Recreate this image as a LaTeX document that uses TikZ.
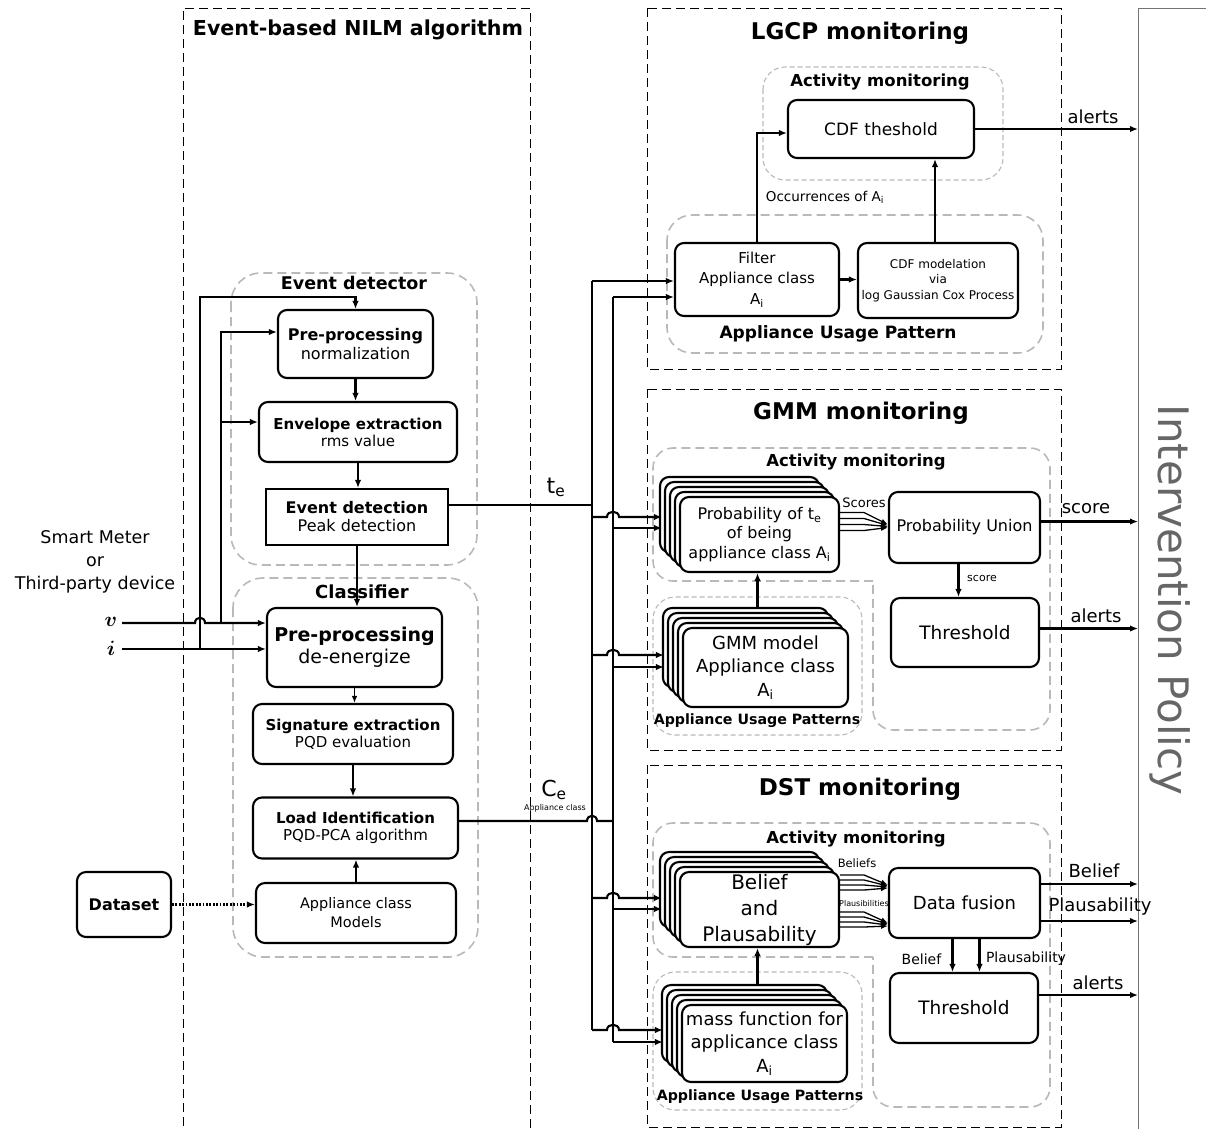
\documentclass[tikz,border=0pt]{standalone}
\usepackage{fontspec}
\setmainfont{DejaVu Sans}
\usepackage{bm}
\usetikzlibrary{arrows.meta,shadows}

\newcommand{\fsz}[2]{\fontsize{#1}{#2}\selectfont}

\tikzset{
  blk/.style={draw, line width=2.1pt, rounded corners=9pt, fill=white, align=center, inner sep=0pt},
  cpy/.style={general shadow={shadow xshift=-#1pt, shadow yshift=#1pt, draw, fill=white, line width=2.1pt}},
  stk/.style={blk, cpy=20, cpy=15, cpy=10, cpy=5},
  frm/.style={line width=1pt, dash pattern=on 9pt off 5pt},
  grp/.style={draw=gray!55, line width=1.6pt, dash pattern=on 9pt off 5pt, rounded corners=25pt},
  subgrp/.style={draw=gray!55, line width=1.1pt, dash pattern=on 5pt off 3pt, rounded corners=22pt},
  con/.style={line width=2.1pt, -{Latex[length=8pt,width=6.5pt]}},
  thin con/.style={line width=1.3pt, -{Latex[length=7pt,width=5.5pt]}},
  lin/.style={line width=2.1pt},
  lbl/.style={font=\fsz{18}{22}},
  ttl/.style={font=\fsz{23}{27}\bfseries},
  gttl/.style={font=\fsz{16.5}{20}\bfseries},
}

\begin{document}
\begin{tikzpicture}[x=1pt,y=-1pt]
  \useasboundingbox (0,0) rectangle (1206,1128);

  % NILM column
  \draw[frm] (183,1140) -- (183,8) -- (530,8) -- (530,1140);
  \node[font=\fsz{20.6}{24}\bfseries] (nilm) at (358,30) {Event-based NILM algorithm};

  \draw[grp, rounded corners=30pt] (231,273) rectangle (477,565);
  \node[font=\fsz{17.5}{21}\bfseries] (dettitle) at (354,283) {Event detector};
  \draw[grp, rounded corners=30pt] (233,578) rectangle (478,957);
  \node[font=\fsz{18}{21}\bfseries] (clstitle) at (362,592) {Classifier};

  \node[blk, minimum width=155pt, minimum height=68pt, font=\fsz{16}{19}] (norm) at (355.5,344) {\textbf{Pre-processing}\\normalization};
  \node[blk, minimum width=198pt, minimum height=60pt, font=\fsz{15}{17}] (env) at (358,432) {\textbf{Envelope extraction}\\rms value};
  \node[blk, rounded corners=0pt, minimum width=182pt, minimum height=56pt, font=\fsz{16}{18}] (evdet) at (357,517) {\textbf{Event detection}\\Peak detection};
  \node[blk, minimum width=175pt, minimum height=79pt, font=\fsz{19}{22}] (deen) at (354.5,647.5) {\textbf{Pre-processing}\\de-energize};
  \node[blk, minimum width=200pt, minimum height=60pt, font=\fsz{15}{17}] (sig) at (353,734) {\textbf{Signature extraction}\\PQD evaluation};
  \node[blk, minimum width=205pt, minimum height=61pt, font=\fsz{15}{17}] (loadid) at (355.5,828) {\textbf{Load Identification}\\PQD-PCA algorithm};
  \node[blk, minimum width=200pt, minimum height=60pt, font=\fsz{14.5}{19}] (models) at (356,913) {Appliance class\\Models};
  \node[blk, minimum width=94pt, minimum height=65pt, font=\fsz{16}{19}\bfseries] (dataset) at (124,904.5) {Dataset};

  \node[lbl, align=center, font=\fsz{17.5}{23}] (meter) at (95,562) {Smart Meter\\or\\Third-party device};
  \node[font=\fsz{20}{24}] (vlab) at (111,622) {$\bm{v}$};
  \node[font=\fsz{20}{24}] (ilab) at (111,648) {$\bm{i}$};

  \coordinate (vin) at (122,623);
  \coordinate (iin) at (122,649);
  \coordinate (vtap) at (221,623);
  \coordinate (itap) at (200,649);
  \coordinate (itop) at (200,297);

  \draw[con] (iin) -- (iin -| deen.west);
  \draw[con] (vin) -- (195,623) .. controls (195,616) and (205,616) .. (205,623) -- (vin -| deen.west);
  \draw[con] (itap) -- (itop) -| (norm.north);
  \draw[con] (vtap) |- ([yshift=12pt]norm.west);
  \draw[con] (vtap) |- ([yshift=10pt]env.west);

  \draw[con] (norm.south) -- (norm.south |- env.north);
  \draw[con] (env.south) -- (env.south |- evdet.north);
  \draw[con] (evdet.south) -- (evdet.south |- deen.north);
  \draw[thin con] (deen.south) -- (deen.south |- sig.north);
  \draw[con] (sig.south) -- (sig.south |- loadid.north);
  \draw[con] (models.north) -- (models.north |- loadid.south);
  \draw[con, dash pattern=on 1.8pt off 1.6pt] (dataset.east) -- (dataset.east -| models.west);

  % LGCP
  \draw[frm] (647,8) rectangle (1061,369);
  \node[ttl] (lgcptitle) at (860,33) {LGCP monitoring};
  \draw[subgrp] (763,67) rectangle (1003,180);
  \node[gttl] (lgcpact) at (880,82) {Activity monitoring};
  \draw[grp] (667,215) rectangle (1043,353);
  \node[font=\fsz{17}{20}\bfseries] (lgcpaup) at (838,334) {Appliance Usage Pattern};

  \node[blk, minimum width=186pt, minimum height=58pt, font=\fsz{17}{20}] (cdfth) at (881,129) {CDF theshold};
  \node[blk, minimum width=164pt, minimum height=73pt, font=\fsz{15}{20.5}] (filt) at (757,279.5) {Filter\\Appliance class\\A\textsubscript{i}};
  \node[blk, minimum width=160pt, minimum height=75pt, font=\fsz{12}{15.5}] (cdfmod) at (938,280.5) {CDF modelation\\via\\log Gaussian Cox Process};
  \node[font=\fsz{13.5}{16}] (occ) at (825,197) {Occurrences of A\textsubscript{i}};

  \draw[con] (filt.east) -- (filt.east -| cdfmod.west);
  \draw[con] (filt.north) |- ([yshift=-4pt]cdfth.west);
  \draw[con] ([xshift=-3pt]cdfmod.north) -- ([xshift=-3pt]cdfmod.north |- cdfth.south);

  % GMM
  \draw[frm] (647,389) rectangle (1061,750);
  \node[ttl] (gmmtitle) at (861,413) {GMM monitoring};
  \draw[grp, rounded corners=20pt] (873,581) -- (653,581) -- (653,448) -- (1050,448) -- (1050,730) -- (873,730) -- (873,581);
  \node[gttl] (gmmact) at (856,462) {Activity monitoring};
  \draw[subgrp] (653,597) rectangle (862,735);
  \node[font=\fsz{14.2}{17}\bfseries] (gmmaup) at (757,721) {Appliance Usage Patterns};

  \node[stk, minimum width=159pt, minimum height=75pt, font=\fsz{16}{19.5}] (prob) at (759.5,534.5) {Probability of t\textsubscript{e}\\of being\\appliance class A\textsubscript{i}};
  \node[stk, minimum width=165pt, minimum height=79pt, font=\fsz{18}{23.5}] (gmmod) at (765.5,667.5) {GMM model\\Appliance class\\A\textsubscript{i}};
  \node[blk, minimum width=151pt, minimum height=71pt, font=\fsz{16}{19}] (pu) at (964.5,527.5) {Probability Union};
  \node[blk, minimum width=148pt, minimum height=69pt, font=\fsz{18.5}{22}] (gth) at (965,632.5) {Threshold};

  \foreach \d/\e in {22/3, 16/2, 10/1, 4/0}
    \draw[thin con] ([yshift=\d pt]prob.east) -- ++(24,0) -- ([yshift=\e pt]pu.west);
  \node[font=\fsz{13}{16}] (scores) at (864,503) {Scores};
  \draw[con] ([xshift=-6pt]pu.south) -- ([xshift=-6pt]pu.south |- gth.north);
  \node[font=\fsz{11}{13}] (score2) at (982,578) {score};
  \coordinate (gmmodup) at ([xshift=-8pt,yshift=20pt]gmmod.north);
  \draw[con] (gmmodup) -- (gmmodup |- prob.south);

  % DST
  \draw[frm] (647,765) rectangle (1061,1127);
  \node[ttl] (dsttitle) at (860,789) {DST monitoring};
  \draw[grp, rounded corners=20pt] (873,957) -- (653,957) -- (653,823) -- (1050,823) -- (1050,1107) -- (873,1107) -- (873,957);
  \node[gttl] (dstact) at (856,839) {Activity monitoring};
  \draw[subgrp] (653,972) rectangle (862,1110);
  \node[font=\fsz{14.2}{17}\bfseries] (dstaup) at (760,1097) {Appliance Usage Patterns};

  \node[stk, minimum width=159pt, minimum height=75pt, font=\fsz{20}{26}] (bel) at (759.5,909.5) {Belief\\and\\Plausability};
  \node[stk, minimum width=165pt, minimum height=77pt, font=\fsz{18}{23.5}] (mass) at (764.5,1043.5) {mass function for\\applicance class\\A\textsubscript{i}};
  \node[blk, minimum width=151pt, minimum height=70pt, font=\fsz{18}{22}] (df) at (964.5,903) {Data fusion};
  \node[blk, minimum width=148pt, minimum height=70pt, font=\fsz{18.5}{22}] (dth) at (964,1008) {Threshold};

  \foreach \d/\e in {34.5/18, 29.5/17, 24.5/16, 19.5/15}
    \draw[thin con] ([yshift=\d pt]bel.east) -- ++(24,0) -- ([yshift=\e pt]df.west);
  \foreach \d/\e in {-2.5/-20, -7.5/-21, -12.5/-22, -17.5/-23}
    \draw[thin con] ([yshift=\d pt]bel.east) -- ++(24,0) -- ([yshift=\e pt]df.west);
  \node[font=\fsz{11.5}{14}] (beliefs) at (857,863) {Beliefs};
  \node[font=\fsz{8}{10}] (plaus) at (864,903) {Plausibilities};
  \draw[con] ([xshift=-12pt]df.south) -- ([xshift=-12pt]df.south |- dth.north);
  \draw[con] ([xshift=15pt]df.south) -- ([xshift=15pt]df.south |- dth.north);
  \node[font=\fsz{14}{17}] (bel2) at (921.5,959) {Belief};
  \node[font=\fsz{14}{17}] (plaus2) at (1026,959) {Plausability};
  \coordinate (massup) at ([xshift=-7pt,yshift=20pt]mass.north);
  \draw[con] (massup) -- (massup |- bel.south);

  % Intervention Policy
  \node[draw=black!55, line width=0.9pt, minimum width=90pt, minimum height=1140pt, anchor=north west] (ipol) at (1138,8) {};
  \node[rotate=-90, text=black!60, font=\fsz{42}{50}] (iptext) at (1170,600) {Intervention Policy};

  \draw[con] (cdfth.east) -- (cdfth.east -| ipol.west);
  \node[lbl] (alerts1) at (1093,117) {alerts};
  \draw[con] ([yshift=6pt]pu.east) -- ([yshift=6pt]pu.east -| ipol.west);
  \node[lbl] (score1) at (1086,509) {score};
  \draw[con] ([yshift=4pt]gth.east) -- ([yshift=4pt]gth.east -| ipol.west);
  \node[lbl] (alerts2) at (1096,616) {alerts};
  \draw[con] ([yshift=19pt]df.east) -- ([yshift=19pt]df.east -| ipol.west);
  \node[lbl] (bel3) at (1094,871) {Belief};
  \draw[con] ([yshift=-18pt]df.east) -- ([yshift=-18pt]df.east -| ipol.west);
  \node[lbl] (plaus3) at (1100,907) {Plausability};
  \draw[con] ([yshift=13pt]dth.east) -- ([yshift=13pt]dth.east -| ipol.west);
  \node[lbl] (alerts3) at (1098,983) {alerts};

  % t_e and C_e buses
  \coordinate (tej) at (592,505);
  \coordinate (te1) at (592,281);
  \coordinate (te2) at (592,517);
  \coordinate (te3) at (592,655);
  \coordinate (te4) at (592,898);
  \coordinate (te5) at (592,1030);
  \coordinate (cej) at (613,821);
  \coordinate (ce1) at (613,297);
  \coordinate (ce2) at (613,528);
  \coordinate (ce3) at (613,667);
  \coordinate (ce4) at (613,909);
  \coordinate (ce5) at (613,1042);
  \coordinate (probl) at ([xshift=-17pt]prob.west);
  \coordinate (gmmodl) at ([xshift=-18pt]gmmod.west);
  \coordinate (bell) at ([xshift=-17pt]bel.west);
  \coordinate (massl) at ([xshift=-18pt]mass.west);

  \draw[lin] (tej -| evdet.east) -- (tej);
  \draw[lin] (te1) -- (te5);
  \draw[lin] (ce1) -- (ce5);
  \draw[lin] (cej -| loadid.east) -- (587,821) .. controls (587,814) and (597,814) .. (597,821) -- (cej);
  \node[font=\fsz{22}{26}] (telab) at (556,487) {t\textsubscript{e}};
  \node[font=\fsz{22}{26}] (celab) at (554,790) {C\textsubscript{e}};
  \node[font=\fsz{8}{10}] (celab2) at (555,808) {Appliance class};

  \draw[con] (te1) -- (te1 -| filt.west);
  \draw[con] (ce1) -- (ce1 -| filt.west);
  \draw[con] (te2) -- (607,517) .. controls (607,510) and (619,510) .. (619,517) -- (probl |- te2);
  \draw[con] (ce2) -- (probl |- ce2);
  \draw[con] (te3) -- (607,655) .. controls (607,648) and (619,648) .. (619,655) -- (gmmodl |- te3);
  \draw[con] (ce3) -- (gmmodl |- ce3);
  \draw[con] (te4) -- (607,898) .. controls (607,891) and (619,891) .. (619,898) -- (bell |- te4);
  \draw[con] (ce4) -- (bell |- ce4);
  \draw[con] (te5) -- (607,1030) .. controls (607,1023) and (619,1023) .. (619,1030) -- (massl |- te5);
  \draw[con] (ce5) -- (massl |- ce5);
\end{tikzpicture}
\end{document}
